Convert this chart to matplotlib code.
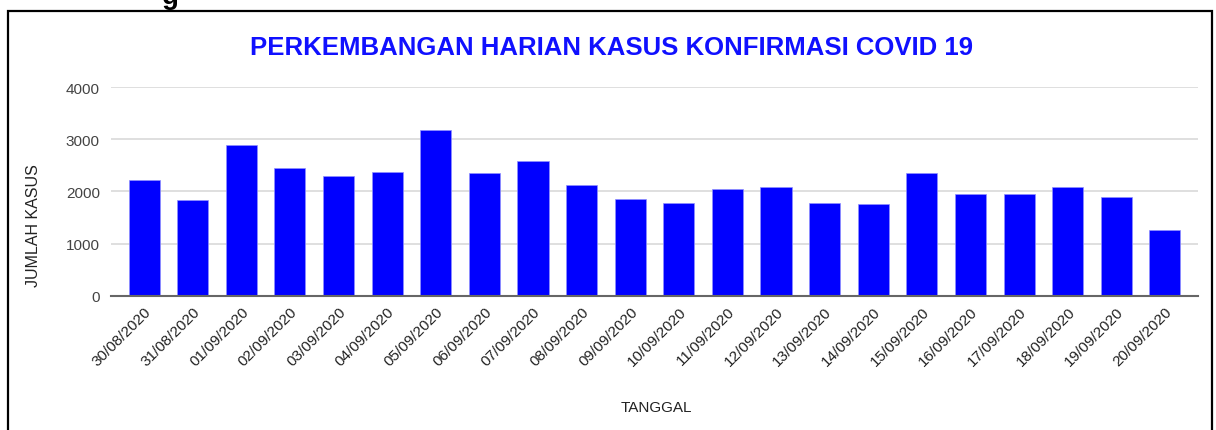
import matplotlib
matplotlib.use("Agg")
import matplotlib.pyplot as plt
from matplotlib.patches import Rectangle

dates = ["30/08/2020", "31/08/2020", "01/09/2020", "02/09/2020", "03/09/2020",
         "04/09/2020", "05/09/2020", "06/09/2020", "07/09/2020", "08/09/2020",
         "09/09/2020", "10/09/2020", "11/09/2020", "12/09/2020", "13/09/2020",
         "14/09/2020", "15/09/2020", "16/09/2020", "17/09/2020", "18/09/2020",
         "19/09/2020", "20/09/2020"]
cases = [2210, 1840, 2880, 2450, 2290, 2370, 3170, 2350, 2590, 2120, 1860,
         1780, 2050, 2080, 1780, 1750, 2350, 1940, 1940, 2080, 1890, 1260]
yticks = [0, 1000, 2000, 3000, 4000]

title = "PERKEMBANGAN HARIAN KASUS KONFIRMASI COVID 19"
plt.rcParams['font.family'] = ['Liberation Sans', 'DejaVu Sans']

W, H = 1216, 431
fig = plt.figure(figsize=(W / 100, H / 100), dpi=100)
fig.patch.set_facecolor('white')

# outer border (frame around the chart)
fig.add_artist(Rectangle((8 / W, -0.05), (1212 - 8) / W, 1.05 - 12 / H,
                         transform=fig.transFigure, fill=False,
                         edgecolor='black', linewidth=1.6))
# heading letter partly cut off at the very top, as in the source
fig.text(170 / W, 1 - 4 / H, "g", fontsize=20, fontweight='bold',
         ha='center', va='baseline', color='black')

ax = fig.add_axes([111 / W, (H - 296.7) / H, (1198 - 111) / W, (296.7 - 88) / H])
x = list(range(len(dates)))
ax.bar(x, cases, width=0.64, color='#0000ff', edgecolor='#9090ff',
       linewidth=0.5, zorder=3)
ax.set_xlim(-0.68, len(dates) - 1 + 0.68)
ax.set_ylim(0, 4000)
ax.set_yticks(yticks)
ax.set_yticklabels([str(v) for v in yticks], fontsize=11, color='#444444')
ax.yaxis.grid(True, color='#d9d9d9', linewidth=1.2, zorder=0)
ax.set_axisbelow(True)
for s in ['top', 'right', 'left']:
    ax.spines[s].set_visible(False)
ax.spines['bottom'].set_color('#666666')
ax.spines['bottom'].set_linewidth(1.5)
ax.spines['bottom'].set_zorder(4)
ax.tick_params(axis='both', length=0)
ax.tick_params(axis='y', pad=8)
ax.set_xticks(x)
ax.set_xticklabels(dates, rotation=45, ha='right', va='top',
                   rotation_mode='anchor', fontsize=11, color='#222222')
ax.tick_params(axis='x', pad=6)

fig.text(656 / W, 1 - 408 / H, "TANGGAL", ha='center', va='center',
         fontsize=11, color='#222222')
fig.text(33 / W, 1 - 226 / H, "JUMLAH KASUS", ha='center', va='center',
         rotation=90, fontsize=11.5, color='#222222')
fig.text(612 / W, 1 - 48 / H, title, ha='center', va='center',
         fontsize=18.5, fontweight='bold', color='#1010ff')

fig.savefig("out.png", dpi=100)
